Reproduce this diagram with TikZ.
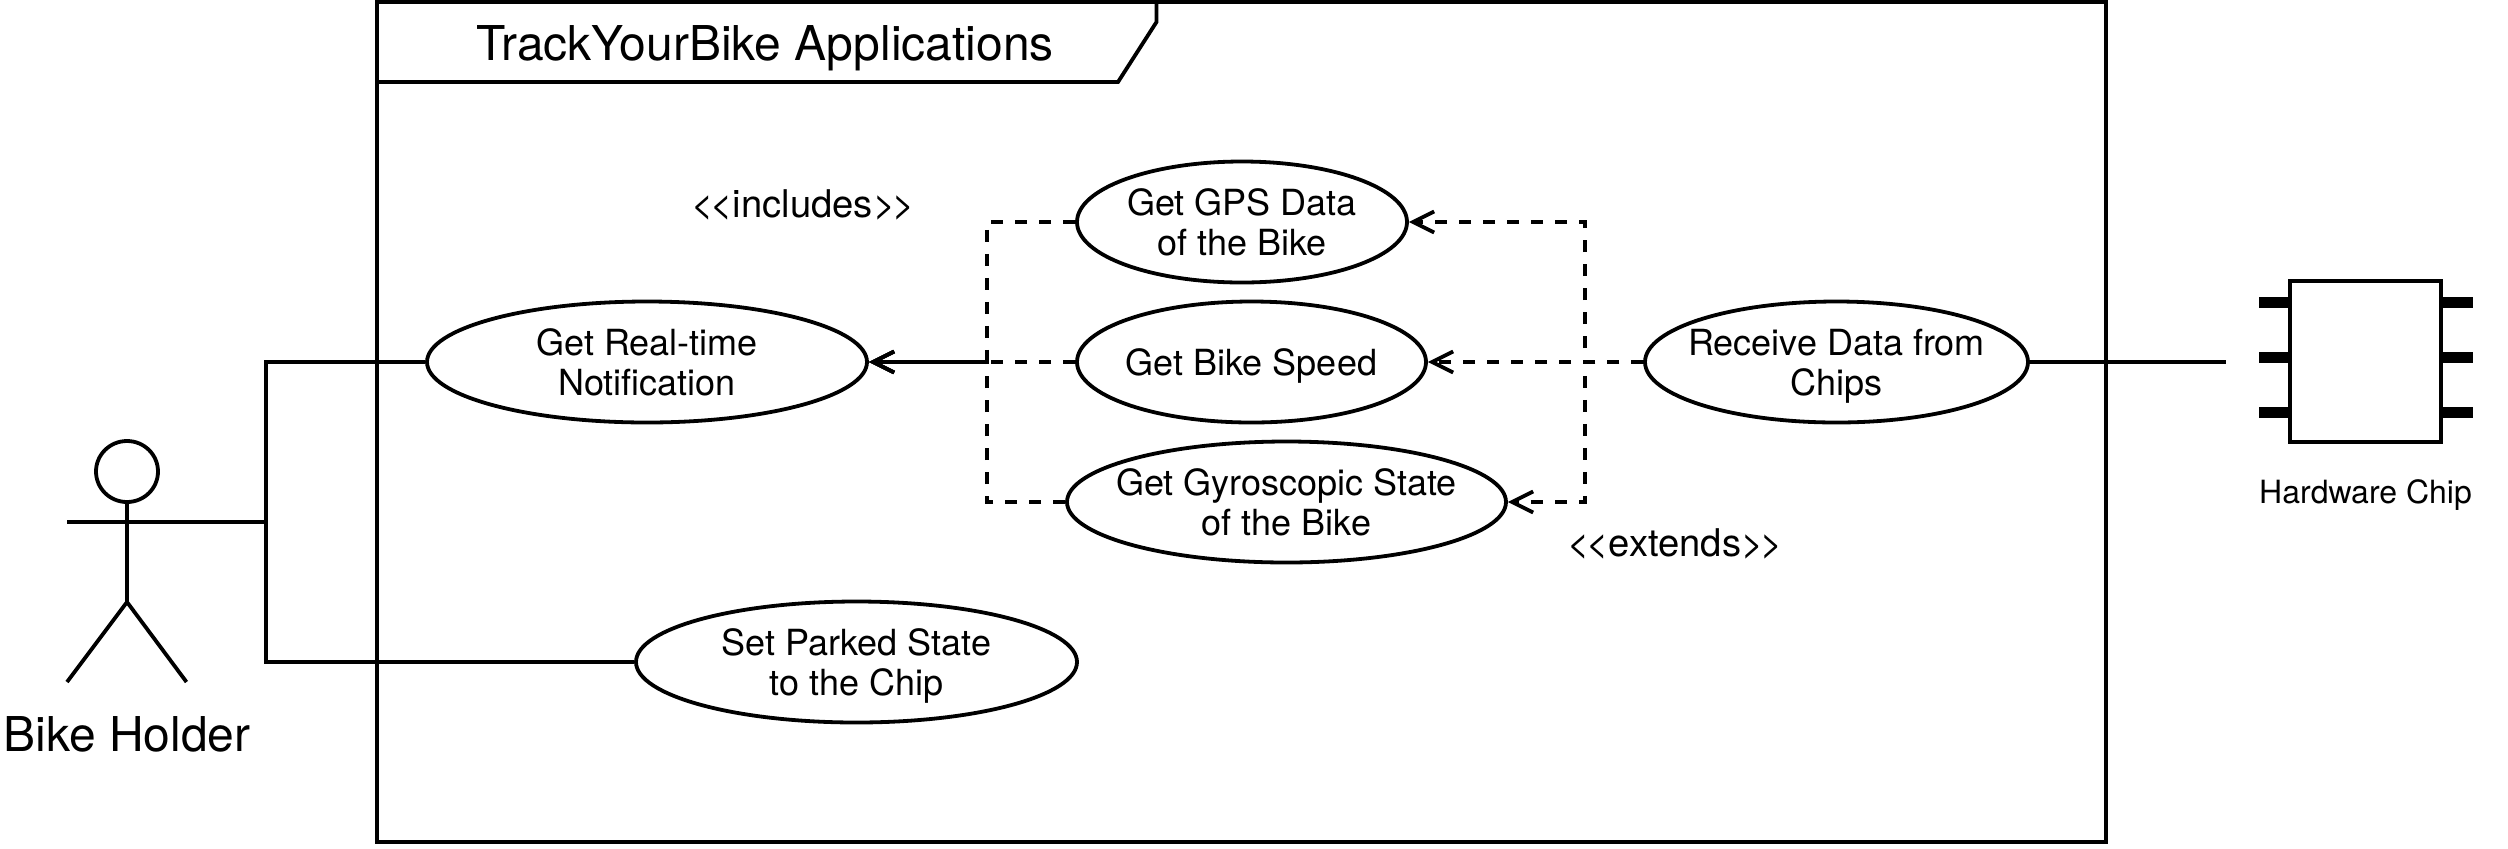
\documentclass[tikz,border=0pt]{standalone}
\usepackage{fontspec}
\setmainfont{TeX Gyre Heros}
\usetikzlibrary{shapes.geometric,arrows.meta,positioning}
\newcommand{\uclabel}[1]{\raisebox{-7pt}[0pt][0pt]{\begin{tabular}{@{}c@{}}#1\end{tabular}}}
\begin{document}
\begin{tikzpicture}[>={Straight Barb[length=10.5pt,width=10.5pt]}, x=0.5pt, y=-0.5pt, line width=1.9pt]
        % Styles des noeuds
        \tikzstyle{usecase} = [ellipse, draw, inner xsep=-40pt, inner ysep=0pt, minimum height=60.5pt, font=\fontsize{18}{20}\selectfont]
        \tikzstyle{plain} = [inner sep=0pt, align=center, font=\fontsize{19.1}{20}\selectfont]
        \tikzstyle{big} = [inner sep=0pt, font=\fontsize{24}{28}\selectfont]
        \tikzstyle{pin} = [draw=none, fill=black, inner sep=0pt, minimum width=15.5pt, minimum height=5.5pt]
        \tikzstyle{rel} = [->, dash pattern=on 6.25pt off 5.75pt]

        \useasboundingbox (0,0) rectangle (2508,848);

        % System frame
        \node[draw, line width=2pt, minimum width=864.5pt, minimum height=420pt, inner sep=0pt] (frame) at (1241.5,422) {};
        \coordinate (tabtop) at (1156.5,2);
        \coordinate (tabnotch) at (1156.5,22);
        \coordinate (tabfoot) at (1118,82);
        \coordinate (tableft) at (378,82);
        \draw (tabtop) -- (tabnotch) -- (tabfoot) -- (tableft);
        \node[big] (title) at (765,48) {TrackYourBike Applications};

        % Use cases
        \node[usecase, minimum width=220pt] (realtime) at (647,362) {\uclabel{Get Real-time\\Notification}};
        \node[usecase, minimum width=174.5pt] (speed) [right of=realtime, node distance=302.25pt] {\uclabel{Get Bike Speed}};
        \node[usecase, minimum width=165pt] (gps) [above of=speed, node distance=70pt, xshift=-4.75pt] {\uclabel{Get GPS Data\\of the Bike}};
        \node[usecase, minimum width=219.5pt] (gyro) [below of=speed, node distance=70pt, xshift=17.5pt] {\uclabel{Get Gyroscopic State\\of the Bike}};
        \node[usecase, minimum width=191.5pt] (receive) [right of=speed, node distance=292.5pt] {\uclabel{Receive Data from\\Chips}};
        \node[usecase, minimum width=220.5pt] (parked) at (856.5,662) {\uclabel{Set Parked State\\to the Chip}};

        \node[plain] (includes) at (803,205) {<\kern-1.5pt<includes>\kern-1.5pt>};
        \node[plain] (extends) at (1675,544) {<\kern-1.5pt<extends>\kern-1.5pt>};

        % Actor
        \node[ellipse, draw, inner sep=0pt, minimum width=31pt, minimum height=30.5pt] (head) at (127,471.5) {};
        \coordinate (armL) at (67,522);
        \coordinate (armR) at (186.5,522);
        \coordinate (hip) at (127,602);
        \coordinate (footL) at (67,682);
        \coordinate (footR) at (186.5,682);
        \draw (head) -- (hip);
        \draw (armL) -- (armR);
        \draw (footL) -- (hip) -- (footR);
        \node[big] (holder) at (127,734) {Bike Holder};

        % Chip
        \node[draw, minimum width=75.5pt, minimum height=80.5pt] (chip) at (2365.5,361.5) {};
        \node[pin] (pinL1) at (2274.5,302) {};
        \node[pin] (pinL2) at (2274.5,357.5) {};
        \node[pin] (pinL3) at (2274.5,412) {};
        \node[pin] (pinR1) at (2457,302) {};
        \node[pin] (pinR2) at (2457,357.5) {};
        \node[pin] (pinR3) at (2457,412) {};
        \node[plain, font=\fontsize{16}{20}\selectfont] (chiplabel) at (2365.5,495) {Hardware Chip};

        % Associations
        \coordinate (joint) at (266,522);
        \coordinate (chipend) at (2226,362);
        \draw (armR) -- (joint) |- (realtime.west);
        \draw (joint) |- (parked.west);
        \draw (receive.east) -- (chipend);

        % Includes
        \coordinate (leftbus) at (987,362);
        \draw[rel] (gps.west) -| (leftbus) -- (realtime.east);
        \draw[rel] (speed.west) -- (realtime.east);
        \draw[rel] (gyro.west) -| (leftbus) -- (realtime.east);

        % Extends
        \coordinate (rightbus) at (1585,362);
        \draw[rel] (receive.west) -- (rightbus) |- (gps.east);
        \draw[rel] (receive.west) -- (speed.east);
        \draw[rel] (receive.west) -- (rightbus) |- (gyro.east);

    \end{tikzpicture}
\end{document}
